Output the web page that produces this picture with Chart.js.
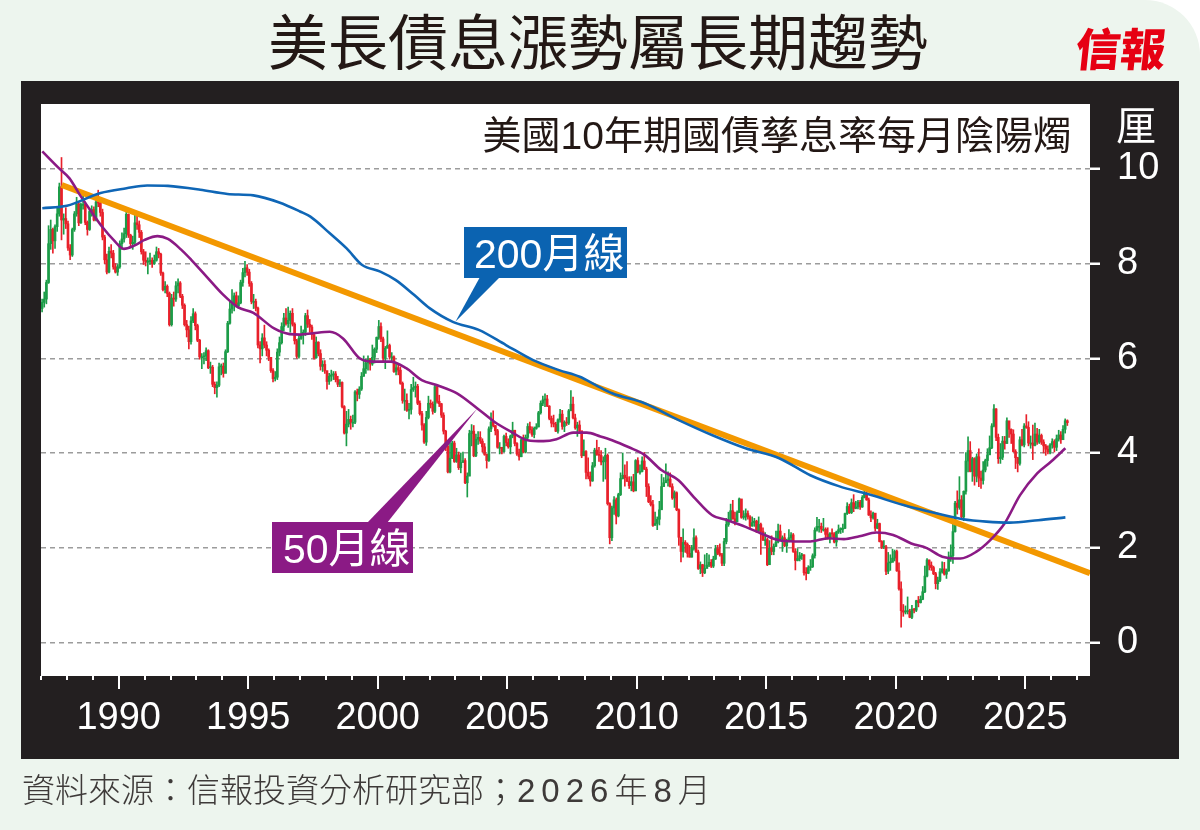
<!DOCTYPE html>
<html>
<head>
<meta charset="utf-8">
<script src="https://cdn.jsdelivr.net/npm/chart.js@4.4.1/dist/chart.umd.min.js"></script>
<style>
  html, body { margin: 0; padding: 0; background: #fff; }
  #page { position: relative; width: 1200px; height: 830px; background: #edf5ee; border-top-right-radius: 55px; overflow: hidden; }
  #frame { position: absolute; left: 21px; top: 81px; width: 1158px; height: 678px; background: #231f20; }
  #chart { position: absolute; left: 0; top: 0; }
  .txt { position: absolute; white-space: nowrap; z-index: 2; }
  #title { left: 0; width: 1196px; top: 4px; text-align: center; font: 400 60px/70px 'Noto Sans CJK TC', sans-serif; color: #231815; }
  #logo { left: 1076px; top: 20px; font: 900 45px/54px 'Noto Sans CJK TC', serif; color: #e60012; transform: skewX(-6deg); }
  #subtitle { right: 128px; top: 113px; font: 400 39px/46px 'Liberation Sans', 'Noto Sans CJK TC', sans-serif; color: #231815; }
  #unit { left: 1116px; top: 100px; font: 400 40px/46px 'Noto Sans CJK TC', sans-serif; color: #fff; }
  #source { left: 22px; top: 768px; font: 300 33px/40px 'Noto Sans CJK TC', sans-serif; color: #3e3a39; }
  #source span { font-family: 'Liberation Sans', 'Noto Sans CJK TC', sans-serif; letter-spacing: 6px; }
</style>
</head>
<body>
<div id="page">
  <div id="frame"></div>
  <canvas id="chart" width="1200" height="830"></canvas>
  <div class="txt" id="title">美長債息漲勢屬長期趨勢</div>
  <div class="txt" id="logo">信報</div>
  <div class="txt" id="subtitle">美國10年期國債孳息率每月陰陽燭</div>
  <div class="txt" id="unit">厘</div>
  <div class="txt" id="source">資料來源：信報投資分析研究部；<span>2026年8月</span></div>
</div>
<script>
// 每月收市 / 最高 / 最低 (1987年1月 至 2026年8月)
const firstOpen = 7.05;
const closes = [
  7.18,7.25,7.60,8.42,8.72,8.48,8.78,9.05,9.62,8.92,8.95,8.84,
  8.33,8.18,8.72,9.05,9.26,8.86,9.25,9.25,8.87,8.72,9.10,9.14,
  8.92,9.30,9.28,9.08,8.56,8.08,7.82,8.26,8.22,7.93,7.82,7.93,
  8.42,8.52,8.63,9.04,8.60,8.42,8.45,8.86,8.82,8.66,8.25,8.07,
  8.03,8.04,8.07,8.00,8.07,8.25,8.20,7.80,7.45,7.52,7.37,6.71,
  7.27,7.25,7.53,7.59,7.31,7.12,6.71,6.60,6.35,6.79,6.94,6.69,
  6.38,6.03,6.03,6.05,6.16,5.80,5.81,5.45,5.38,5.43,5.82,5.83,
  5.68,6.14,6.74,7.04,7.15,7.32,7.11,7.17,7.60,7.81,7.91,7.82,
  7.58,7.20,7.20,7.06,6.28,6.20,6.43,6.28,6.17,6.02,5.74,5.57,
  5.60,6.13,6.33,6.67,6.85,6.73,6.80,6.95,6.72,6.37,6.04,6.42,
  6.49,6.55,6.90,6.72,6.66,6.50,6.01,6.34,6.10,5.83,5.87,5.74,
  5.51,5.62,5.65,5.67,5.55,5.45,5.49,4.98,4.42,4.61,4.71,4.65,
  4.65,5.29,5.24,5.35,5.62,5.78,5.90,5.97,5.88,6.02,6.19,6.44,
  6.67,6.41,6.00,6.21,6.27,6.03,6.03,5.72,5.80,5.75,5.47,5.11,
  5.11,4.90,4.92,5.34,5.38,5.41,5.05,4.83,4.59,4.23,4.75,5.05,
  5.03,4.88,5.40,5.09,5.04,4.80,4.46,4.14,3.60,3.89,4.21,3.82,
  3.96,3.69,3.80,3.84,3.37,3.51,4.41,4.46,3.94,4.29,4.33,4.25,
  4.13,3.97,3.84,4.51,4.65,4.58,4.47,4.12,4.12,4.03,4.35,4.22,
  4.13,4.36,4.48,4.20,3.98,3.92,4.28,4.02,4.33,4.56,4.49,4.39,
  4.52,4.55,4.85,5.05,5.12,5.14,4.99,4.73,4.63,4.61,4.46,4.70,
  4.82,4.56,4.65,4.63,4.89,5.03,4.74,4.53,4.59,4.47,3.94,4.03,
  3.59,3.51,3.41,3.73,4.06,3.97,3.95,3.81,3.82,3.95,2.93,2.21,
  2.84,3.01,2.67,3.12,3.46,3.53,3.48,3.40,3.31,3.39,3.20,3.84,
  3.61,3.61,3.83,3.66,3.29,2.97,2.91,2.47,2.51,2.60,2.80,3.29,
  3.37,3.42,3.45,3.29,3.05,3.16,2.80,2.22,1.92,2.11,2.07,1.88,
  1.80,1.98,2.21,1.91,1.56,1.64,1.47,1.56,1.63,1.69,1.61,1.76,
  1.98,1.88,1.85,1.67,2.13,2.49,2.58,2.78,2.61,2.55,2.74,3.03,
  2.64,2.65,2.72,2.65,2.46,2.53,2.56,2.35,2.49,2.34,2.17,2.17,
  1.64,1.99,1.92,2.03,2.12,2.35,2.18,2.21,2.04,2.14,2.21,2.27,
  1.92,1.73,1.77,1.83,1.85,1.47,1.46,1.58,1.60,1.83,2.37,2.45,
  2.45,2.39,2.39,2.28,2.20,2.30,2.29,2.12,2.33,2.38,2.41,2.41,
  2.72,2.87,2.74,2.95,2.83,2.86,2.96,2.86,3.06,3.15,3.01,2.69,
  2.63,2.73,2.41,2.51,2.13,2.01,2.02,1.50,1.68,1.69,1.78,1.92,
  1.51,1.13,0.67,0.64,0.65,0.66,0.53,0.70,0.68,0.88,0.84,0.91,
  1.07,1.40,1.74,1.63,1.58,1.45,1.24,1.31,1.49,1.55,1.44,1.51,
  1.79,1.83,2.34,2.94,2.85,3.01,2.65,3.19,3.83,4.05,3.61,3.88,
  3.51,3.92,3.47,3.42,3.64,3.84,3.96,4.11,4.57,4.93,4.33,3.88,
  3.91,4.25,4.20,4.68,4.50,4.40,4.03,3.90,3.78,4.28,4.17,4.57,
  4.54,4.21,4.21,4.16,4.40,4.23,4.37,4.23,4.15,4.08,4.02,4.17,
  4.24,4.12,4.30,4.38,4.28,4.50,4.68,4.64
];
const highs = [
  7.25,7.40,7.65,8.80,8.92,8.75,8.82,9.20,9.70,10.24,9.05,9.18,
  8.90,8.40,8.75,9.10,9.40,9.30,9.28,9.48,9.30,8.90,9.15,9.22,
  9.20,9.35,9.55,9.38,9.15,8.60,8.20,8.35,8.40,8.28,8.00,7.98,
  8.48,8.65,8.75,9.08,9.05,8.62,8.58,9.02,9.05,8.90,8.70,8.30,
  8.25,8.12,8.22,8.12,8.18,8.35,8.32,8.22,7.82,7.62,7.55,7.40,
  7.35,7.40,7.62,7.68,7.62,7.35,7.15,6.80,6.68,6.88,7.05,6.98,
  6.72,6.40,6.10,6.12,6.22,6.18,5.92,5.85,5.50,5.50,5.90,5.88,
  5.90,6.18,6.78,7.18,7.45,7.38,7.40,7.32,7.65,7.90,8.05,7.98,
  7.88,7.62,7.35,7.25,7.08,6.35,6.52,6.70,6.35,6.20,6.02,5.78,
  5.72,6.20,6.45,6.75,6.95,7.05,7.08,7.00,7.05,6.75,6.40,6.48,
  6.68,6.60,6.95,7.02,6.82,6.70,6.52,6.45,6.35,6.18,5.95,5.95,
  5.72,5.68,5.75,5.72,5.72,5.62,5.55,5.50,5.00,4.88,4.92,4.78,
  4.80,5.32,5.35,5.40,5.70,6.05,5.98,6.05,6.00,6.28,6.22,6.45,
  6.80,6.75,6.45,6.25,6.58,6.30,6.12,6.05,5.90,5.88,5.82,5.50,
  5.35,5.25,5.05,5.45,5.60,5.50,5.45,5.10,4.88,4.62,4.88,5.20,
  5.12,5.08,5.45,5.42,5.22,5.05,4.85,4.48,4.18,4.22,4.25,4.25,
  4.10,4.02,4.00,4.02,3.88,3.58,4.48,4.60,4.58,4.40,4.45,4.45,
  4.30,4.20,3.98,4.55,4.85,4.89,4.58,4.50,4.22,4.12,4.38,4.42,
  4.30,4.38,4.65,4.48,4.22,4.08,4.30,4.38,4.38,4.62,4.65,4.55,
  4.55,4.62,4.88,5.10,5.20,5.25,5.22,5.00,4.78,4.80,4.65,4.72,
  4.92,4.90,4.68,4.75,4.92,5.32,5.18,4.82,4.65,4.68,4.45,4.28,
  4.05,3.90,3.60,3.80,4.10,4.27,4.12,4.05,3.92,4.10,3.98,2.95,
  2.88,3.08,3.05,3.15,3.58,4.00,3.75,3.82,3.50,3.50,3.55,3.86,
  3.90,3.75,3.92,4.01,3.70,3.35,3.10,3.00,2.75,2.65,2.98,3.55,
  3.48,3.77,3.60,3.58,3.35,3.20,3.18,2.82,2.20,2.40,2.15,2.10,
  2.05,2.05,2.40,2.25,1.95,1.70,1.65,1.85,1.88,1.85,1.75,1.82,
  2.05,2.05,2.08,1.88,2.20,2.62,2.75,2.92,3.00,2.75,2.78,3.05,
  3.02,2.78,2.82,2.78,2.68,2.65,2.62,2.58,2.65,2.52,2.42,2.32,
  2.20,2.15,2.25,2.08,2.35,2.50,2.48,2.25,2.30,2.18,2.38,2.32,
  2.30,1.98,1.98,1.90,1.88,1.85,1.58,1.62,1.75,1.87,2.42,2.64,
  2.60,2.52,2.62,2.42,2.42,2.32,2.40,2.32,2.35,2.48,2.42,2.50,
  2.73,2.95,2.92,3.03,3.12,2.98,3.00,3.00,3.10,3.25,3.24,3.05,
  2.78,2.75,2.72,2.60,2.52,2.15,2.15,2.05,1.90,1.85,1.97,1.95,
  1.95,1.68,1.28,0.80,0.77,0.96,0.70,0.78,0.72,0.89,0.97,0.98,
  1.18,1.61,1.77,1.74,1.70,1.61,1.48,1.38,1.56,1.70,1.69,1.55,
  1.91,2.06,2.56,2.98,3.20,3.50,3.10,3.20,4.01,4.34,4.24,3.91,
  3.90,3.98,4.09,3.62,3.82,3.87,4.09,4.36,4.62,5.02,4.94,4.40,
  4.20,4.35,4.35,4.74,4.64,4.51,4.49,4.07,3.91,4.34,4.50,4.62,
  4.81,4.66,4.36,4.59,4.63,4.52,4.50,4.40,4.28,4.18,4.15,4.20,
  4.30,4.28,4.38,4.48,4.45,4.58,4.72,4.70
];
const lows = [
  6.98,7.08,7.15,7.58,8.30,8.22,8.32,8.68,9.00,8.50,8.62,8.74,
  8.28,8.08,8.15,8.68,9.00,8.80,8.85,9.15,8.82,8.60,8.70,9.00,
  8.90,8.90,9.20,9.00,8.50,8.00,7.78,7.80,8.12,7.88,7.80,7.75,
  7.90,8.30,8.45,8.55,8.55,8.35,8.30,8.40,8.72,8.55,8.20,7.98,
  7.95,7.78,7.98,7.92,7.98,8.05,8.12,7.75,7.42,7.38,7.30,6.68,
  6.68,7.10,7.20,7.38,7.28,7.05,6.68,6.45,6.20,6.30,6.75,6.60,
  6.35,5.98,5.78,5.88,5.95,5.78,5.68,5.40,5.25,5.18,5.40,5.65,
  5.60,5.70,6.12,6.72,6.95,7.00,7.08,7.05,7.15,7.52,7.72,7.75,
  7.52,7.15,7.05,7.00,6.22,5.90,6.05,6.22,6.05,5.95,5.70,5.50,
  5.52,5.55,6.05,6.30,6.58,6.70,6.65,6.55,6.68,6.30,6.00,6.00,
  6.40,6.30,6.48,6.65,6.55,6.40,5.98,6.00,6.05,5.75,5.72,5.68,
  5.35,5.45,5.52,5.55,5.50,5.40,5.40,4.95,4.40,4.15,4.55,4.50,
  4.55,4.62,5.10,5.15,5.32,5.62,5.68,5.75,5.75,5.85,5.90,6.12,
  6.40,6.35,5.95,5.78,6.22,5.98,5.95,5.70,5.65,5.65,5.45,5.05,
  4.90,4.88,4.72,4.82,5.30,5.18,5.02,4.80,4.48,4.20,4.16,4.72,
  4.95,4.82,4.85,5.05,4.98,4.75,4.40,4.05,3.58,3.58,3.88,3.80,
  3.80,3.65,3.58,3.80,3.35,3.07,3.52,4.15,3.92,3.92,4.18,4.20,
  4.02,3.95,3.68,3.82,4.45,4.55,4.38,4.10,3.98,3.98,4.02,4.15,
  4.10,3.98,4.32,4.15,3.95,3.85,3.92,4.00,4.00,4.30,4.42,4.35,
  4.32,4.50,4.55,4.82,5.00,4.98,4.98,4.70,4.55,4.55,4.45,4.42,
  4.65,4.50,4.45,4.58,4.60,4.95,4.72,4.50,4.35,4.42,3.90,3.95,
  3.45,3.45,3.30,3.40,3.70,3.95,3.82,3.75,3.40,3.45,2.90,2.08,
  2.15,2.70,2.50,2.65,3.10,3.45,3.30,3.40,3.25,3.20,3.18,3.20,
  3.58,3.55,3.60,3.65,3.08,2.95,2.88,2.45,2.48,2.38,2.48,2.82,
  3.30,3.40,3.30,3.28,3.02,2.85,2.78,2.05,1.70,1.80,1.90,1.80,
  1.80,1.80,1.95,1.90,1.54,1.45,1.39,1.45,1.58,1.60,1.58,1.58,
  1.75,1.85,1.82,1.62,1.62,2.08,2.45,2.55,2.60,2.48,2.55,2.80,
  2.62,2.60,2.58,2.60,2.42,2.45,2.45,2.32,2.35,1.86,2.15,2.05,
  1.62,1.65,1.85,1.85,2.02,2.10,2.15,1.92,2.02,1.90,2.12,2.15,
  1.90,1.53,1.72,1.72,1.75,1.42,1.32,1.45,1.52,1.58,1.78,2.35,
  2.33,2.32,2.35,2.17,2.18,2.10,2.22,2.10,2.03,2.30,2.30,2.32,
  2.40,2.70,2.72,2.72,2.76,2.82,2.82,2.81,2.85,3.05,3.00,2.68,
  2.55,2.60,2.35,2.40,2.12,1.98,1.98,1.43,1.45,1.52,1.70,1.72,
  1.50,1.10,0.32,0.55,0.60,0.60,0.52,0.50,0.62,0.65,0.75,0.83,
  0.90,1.05,1.38,1.53,1.52,1.43,1.13,1.12,1.28,1.46,1.42,1.35,
  1.50,1.71,1.67,2.33,2.71,2.81,2.63,2.57,3.13,3.60,3.60,3.40,
  3.32,3.39,3.29,3.25,3.34,3.60,3.72,4.01,4.09,4.55,4.26,3.78,
  3.78,3.86,4.08,4.20,4.33,4.20,4.02,3.67,3.60,3.74,4.15,4.13,
  4.52,4.15,4.10,3.86,4.15,4.18,4.20,4.18,4.00,3.95,3.98,3.98,
  4.10,4.02,4.05,4.25,4.20,4.35,4.42,4.58
];

// 200月線 / 50月線
const ma200Years = [1987.05,1988.0,1989.3,1990.3,1991.1,1991.9,1993.15,1994.2,1995.2,1996.2,
  1997.0,1997.4,1998.15,1998.8,1999.4,2000.1,2000.7,2001.4,2002.0,2002.9,
  2003.9,2004.95,2006.0,2007.0,2007.8,2008.4,2009.05,2010.3,2011.6,2012.9,
  2014.2,2015.5,2016.7,2017.8,2019.05,2020.3,2021.6,2022.6,2023.5,2024.4,2025.5,2026.55];
const ma200Values = [9.17,9.22,9.49,9.59,9.65,9.64,9.56,9.47,9.44,9.29,
  9.10,8.99,8.64,8.32,7.97,7.83,7.65,7.34,7.06,6.77,
  6.60,6.28,5.96,5.75,5.61,5.44,5.26,5.05,4.70,4.38,
  4.10,3.89,3.53,3.30,3.11,2.90,2.72,2.60,2.55,2.53,2.58,2.64];
const ma50Years = [1987.05,1987.7,1988.1,1988.5,1988.9,1989.4,1989.8,1990.2,1990.6,1991.0,
  1991.5,1991.9,1992.4,1992.8,1993.4,1994.0,1994.6,1995.2,1996.0,1996.6,
  1997.0,1997.5,1998.15,1998.66,1999.3,1999.8,2000.5,2001.1,2001.7,2002.3,
  2003.06,2003.85,2004.5,2005.14,2005.78,2006.4,2006.9,2007.55,2008.07,2008.6,
  2009.05,2009.7,2010.3,2010.95,2011.6,2012.25,2012.9,2013.5,2014.2,2014.8,
  2015.46,2016.1,2016.7,2017.4,2018.0,2018.6,2019.25,2019.9,2020.6,2021.2,
  2021.8,2022.5,2023.1,2023.65,2024.2,2024.8,2025.46,2026.0,2026.55];
const ma50Values = [10.37,10.01,9.80,9.45,9.13,8.75,8.50,8.31,8.38,8.50,
  8.58,8.52,8.30,8.08,7.72,7.36,7.08,6.96,6.63,6.51,
  6.50,6.53,6.56,6.42,6.00,5.93,5.93,5.79,5.54,5.43,
  5.26,4.94,4.66,4.45,4.27,4.25,4.29,4.43,4.43,4.35,
  4.27,4.12,3.96,3.64,3.43,3.04,2.69,2.58,2.44,2.30,
  2.16,2.13,2.13,2.20,2.18,2.24,2.32,2.27,2.09,1.99,
  1.81,1.77,1.91,2.16,2.51,3.11,3.57,3.82,4.10];

// 長期下降趨勢線
const trendYears = [1987.8, 2027.5];
const trendValues = [9.66, 1.46];

const yearTicks = { min: 1987, max: 2027 };
const xMin = 1987.0, xMax = 2027.5;
const yMin = -0.71, yMax = 11.37;

const GREEN = '#1c9c48';
const RED = '#e8202a';

// 每月開市 = 上月收市
const opens = closes.map((c, i) => i === 0 ? firstOpen : closes[i - 1]);
const monthX = closes.map((c, i) => 1987 + (i + 0.5) / 12);
const isUp = i => closes[i] >= opens[i];

const bodies = closes.map((c, i) => ({ x: monthX[i], y: [opens[i], c] }));
const wicks = closes.map((c, i) => ({ x: monthX[i], y: [lows[i], highs[i]] }));
const toPts = (xs, ys) => xs.map((x, i) => ({ x: x, y: ys[i] }));

const callouts = [
  { text: '200月線', color: '#0b63b1', box: [464, 227, 163, 51], base: [480, 500, 277], tip: [2003.0, 6.77], textX: 474, textY: 268 },
  { text: '50月線', color: '#8b1a85', box: [272, 522, 141, 51], base: [367, 387, 523], tip: [2003.85, 4.94], textX: 283, textY: 563 }
];

const framePlugin = {
  id: 'frame',
  beforeDraw(chart) {
    const { ctx, chartArea: a } = chart;
    ctx.save();
    ctx.fillStyle = '#fff';
    ctx.fillRect(a.left, a.top, a.right - a.left, a.bottom - a.top);
    ctx.restore();
  },
  afterDraw(chart) {
    const { ctx, chartArea: a, scales } = chart;
    ctx.save();
    ctx.strokeStyle = '#fff';
    ctx.lineWidth = 2;
    for (let yr = yearTicks.min; yr <= yearTicks.max; yr++) {
      const px = Math.round(scales.x.getPixelForValue(yr));
      ctx.beginPath();
      ctx.moveTo(px, a.bottom);
      ctx.lineTo(px, a.bottom + (yr % 5 === 0 ? 13 : 4));
      ctx.stroke();
    }
    ctx.restore();
  },
  afterDatasetsDraw(chart) {
    const { ctx, scales } = chart;
    callouts.forEach(c => {
      const tx = scales.x.getPixelForValue(c.tip[0]);
      const ty = scales.y.getPixelForValue(c.tip[1]);
      ctx.save();
      ctx.fillStyle = c.color;
      ctx.fillRect(c.box[0], c.box[1], c.box[2], c.box[3]);
      ctx.beginPath();
      ctx.moveTo(c.base[0], c.base[2]);
      ctx.lineTo(c.base[1], c.base[2]);
      ctx.lineTo(tx, ty);
      ctx.closePath();
      ctx.fill();
      ctx.fillStyle = '#fff';
      ctx.font = "41px 'Liberation Sans', 'Noto Sans CJK TC', sans-serif";
      ctx.textBaseline = 'alphabetic';
      ctx.fillText(c.text, c.textX, c.textY);
      ctx.restore();
    });
  }
};

Chart.defaults.font.family = "'Liberation Sans', 'Noto Sans CJK TC', sans-serif";

new Chart(document.getElementById('chart'), {
  type: 'bar',
  data: {
    datasets: [
      {
        type: 'line', label: '200月線', data: toPts(ma200Years, ma200Values),
        borderColor: '#0f66b6', borderWidth: 2.6, pointRadius: 0, cubicInterpolationMode: 'monotone', order: 1
      },
      {
        type: 'line', label: '50月線', data: toPts(ma50Years, ma50Values),
        borderColor: '#8b1a85', borderWidth: 2.6, pointRadius: 0, cubicInterpolationMode: 'monotone', order: 2
      },
      {
        type: 'line', label: '趨勢線', data: toPts(trendYears, trendValues),
        borderColor: '#f39800', borderWidth: 6, pointRadius: 0, borderCapStyle: 'butt', order: 3
      },
      {
        label: '影線', data: wicks, grouped: false, barThickness: 1, borderWidth: 0,
        backgroundColor: ctx => isUp(ctx.dataIndex) ? GREEN : RED, order: 5
      },
      {
        label: '實體', data: bodies, grouped: false, barThickness: 2, minBarLength: 1, borderWidth: 0,
        backgroundColor: ctx => isUp(ctx.dataIndex) ? GREEN : RED, order: 4
      }
    ]
  },
  options: {
    responsive: false,
    animation: false,
    layout: { padding: { left: 41, top: 104, right: 0, bottom: 0 } },
    plugins: { legend: { display: false }, tooltip: { enabled: false } },
    scales: {
      x: {
        type: 'linear', min: xMin, max: xMax, offset: false,
        afterFit: s => { s.height = 154; },
        grid: { display: false, drawTicks: false },
        border: { display: false },
        ticks: { stepSize: 5, includeBounds: false, autoSkip: false, maxRotation: 0, padding: 20,
          color: '#fff', font: { size: 38 }, callback: v => String(v) }
      },
      y: {
        position: 'right', min: yMin, max: yMax,
        afterFit: s => { s.width = 110; },
        grid: { color: '#9c9c9c', lineWidth: 1.5, tickColor: '#fff', tickWidth: 2.5, tickLength: 10, tickBorderDash: [] },
        border: { display: false, dash: [5, 4] },
        ticks: { stepSize: 2, includeBounds: false, padding: 17, color: '#fff', font: { size: 38 }, callback: v => String(v) }
      }
    }
  },
  plugins: [framePlugin]
});
</script>
</body>
</html>
